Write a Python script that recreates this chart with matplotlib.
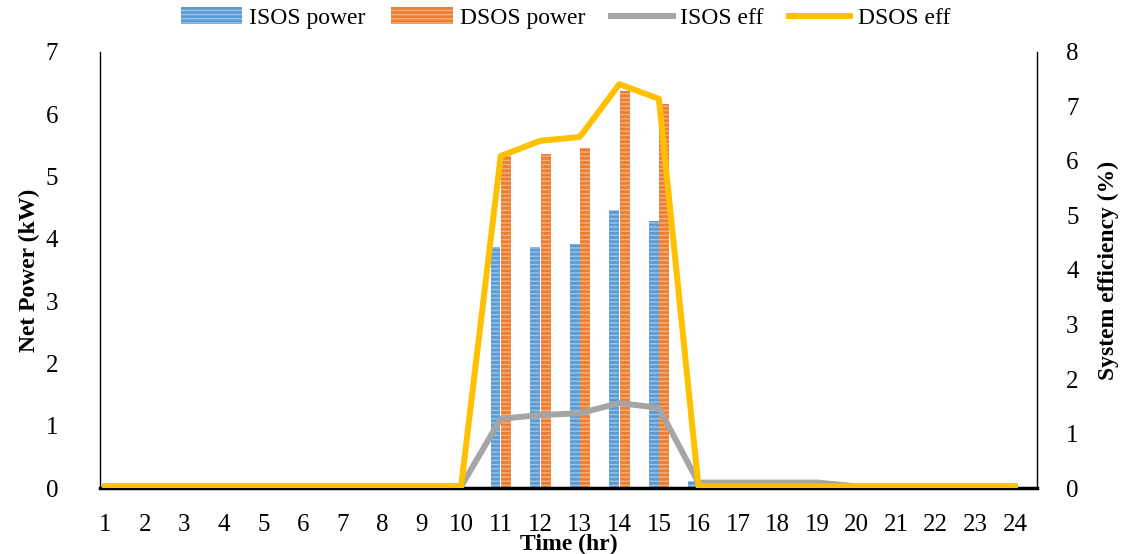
import matplotlib
matplotlib.use("Agg")
import matplotlib.pyplot as plt
import numpy as np
from matplotlib.patches import Patch
from matplotlib.lines import Line2D

hours = list(range(1, 25))
isos_power = [0, 0, 0, 0, 0, 0, 0, 0, 0, 0, 3.87, 3.87, 3.92, 4.46, 4.28,
              0.12, 0.10, 0.08, 0.08, 0.06, 0, 0, 0, 0]
dsos_power = [0, 0, 0, 0, 0, 0, 0, 0, 0, 0, 5.33, 5.36, 5.46, 6.37, 6.16,
              0, 0, 0, 0, 0, 0, 0, 0, 0]
isos_eff = [0.03, 0.03, 0.03, 0.03, 0.03, 0.03, 0.03, 0.03, 0.03, 0.03, 1.27, 1.34, 1.37, 1.56, 1.47,
            0.10, 0.10, 0.10, 0.10, 0.03, 0.03, 0.03, 0.03, 0.03]
dsos_eff = [0.03, 0.03, 0.03, 0.03, 0.03, 0.03, 0.03, 0.03, 0.03, 0.03, 6.09, 6.37, 6.44, 7.41, 7.14,
            0.03, 0.03, 0.03, 0.03, 0.03, 0.03, 0.03, 0.03, 0.03]

BLUE = "#5B9BD5"
BLUE_H = "#9DC3E6"
ORANGE = "#ED7D31"
ORANGE_H = "#F4B183"
GRAY = "#A5A5A5"
YELLOW = "#FFC000"

plt.rcParams['font.family'] = ['Liberation Serif', 'DejaVu Serif']
plt.rcParams['hatch.linewidth'] = 1.0

fig = plt.figure(figsize=(11.26, 5.54), dpi=100)
ax = fig.add_axes([0.0888, 0.1191, 0.8322, 0.7871])
x = np.array(hours, dtype=float)
w = 0.25
ax.bar(x - 0.13, isos_power, width=w, color=BLUE, edgecolor=BLUE_H, linewidth=0,
       hatch='----', zorder=2)
ax.bar(x + 0.14, dsos_power, width=w, color=ORANGE, edgecolor=ORANGE_H, linewidth=0,
       hatch='----', zorder=2)
ax.set_xlim(0.87, 24.56)
ax.set_ylim(0, 7)
ax.set_xticks(hours)
ax.set_xticklabels([str(h) for h in hours])
ax.set_yticks(range(0, 8))
ax.tick_params(axis='both', length=0, labelsize=18)
ax.tick_params(axis='x', pad=19)
ax.tick_params(axis='y', pad=30)
ax.spines['top'].set_visible(False)
ax.spines['right'].set_visible(False)
ax.spines['left'].set_linewidth(1.0)
ax.spines['bottom'].set_linewidth(2.5)
ax.spines['bottom'].set_zorder(3)
ax.set_xlabel("Time (hr)", fontsize=17, fontweight='bold', labelpad=-2)
ax.set_ylabel("Net Power (kW)", fontsize=17, fontweight='bold', labelpad=4)

ax2 = ax.twinx()
ax2.plot(x, isos_eff, color=GRAY, linewidth=4.3, zorder=4)
ax2.plot(x, dsos_eff, color=YELLOW, linewidth=4.3, zorder=5)
ax2.set_ylim(0, 8)
ax2.set_yticks(range(0, 9))
ax2.tick_params(axis='y', length=0, labelsize=18, pad=21)
ax2.spines['top'].set_visible(False)
ax2.spines['left'].set_visible(False)
ax2.spines['bottom'].set_visible(False)
ax2.spines['right'].set_linewidth(1.0)
ax2.set_ylabel("System efficiency (%)", fontsize=17, fontweight='bold', labelpad=14)

handles = [Patch(facecolor=BLUE, edgecolor=BLUE_H, hatch='----', linewidth=0),
           Patch(facecolor=ORANGE, edgecolor=ORANGE_H, hatch='----', linewidth=0),
           Line2D([0], [0], color=GRAY, linewidth=4.3),
           Line2D([0], [0], color=YELLOW, linewidth=4.3)]
labels = ["ISOS power", "DSOS power", "ISOS eff", "DSOS eff"]
fig.legend(handles, labels, loc='upper center', bbox_to_anchor=(0.502, 1.025), ncol=4,
           frameon=False, fontsize=17, handlelength=2.6, columnspacing=1.1, handletextpad=0.3)

fig.savefig("out.png", dpi=100)
